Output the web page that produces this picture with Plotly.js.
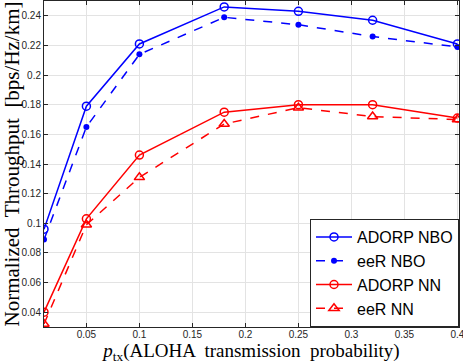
<!DOCTYPE html>
<html>
<head>
<meta charset="utf-8">
<script src="https://cdn.plot.ly/plotly-3.0.1.min.js"></script>
<style>
  body { margin: 0; background: #fff; }
  #plot { width: 463px; height: 364px; }
</style>
</head>
<body>
<div id="plot"></div>
<script>
// transmission probability values
var ptx = [0.01, 0.05, 0.1, 0.18, 0.25, 0.32, 0.4];

// normalized throughput per scheme
var adorpNBO = [0.096, 0.179, 0.221, 0.246, 0.243, 0.237, 0.221];
var eerNBO   = [0.089, 0.165, 0.214, 0.239, 0.234, 0.226, 0.219];
var adorpNN  = [0.040, 0.103, 0.146, 0.175, 0.180, 0.180, 0.171];
var eerNN    = [0.032, 0.099, 0.131, 0.167, 0.178, 0.172, 0.170];

var xTicks = [0.05, 0.1, 0.15, 0.2, 0.25, 0.3, 0.35, 0.4];
var xTickText = ["0.05", "0.1", "0.15", "0.2", "0.25", "0.3", "0.35", "0.4"];
var yTicks = [0.04, 0.06, 0.08, 0.1, 0.12, 0.14, 0.16, 0.18, 0.2, 0.22, 0.24];
var yTickText = ["0.04", "0.06", "0.08", "0.1", "0.12", "0.14", "0.16", "0.18", "0.2", "0.22", "0.24"];

var blue = "#0000ff";
var red = "#ff0000";

var traces = [
  {
    x: ptx, y: adorpNBO, name: "ADORP NBO", mode: "lines+markers",
    line: {color: blue, width: 1.5},
    marker: {symbol: "circle-open", size: 8, color: blue, line: {width: 1.5}}
  },
  {
    x: ptx, y: eerNBO, name: "eeR NBO", mode: "lines+markers",
    line: {color: blue, width: 1.5, dash: "dash"},
    marker: {symbol: "circle", size: 6, color: blue}
  },
  {
    x: ptx, y: adorpNN, name: "ADORP NN", mode: "lines+markers",
    line: {color: red, width: 1.5},
    marker: {symbol: "circle-open", size: 8, color: red, line: {width: 1.5}}
  },
  {
    x: ptx, y: eerNN, name: "eeR NN", mode: "lines+markers",
    line: {color: red, width: 1.5, dash: "dash"},
    marker: {symbol: "triangle-up-open", size: 9, color: red, line: {width: 1.5}}
  }
];

var axisCommon = {
  showline: true, linecolor: "#262626", linewidth: 1, mirror: "ticks",
  ticks: "inside", ticklen: 4, tickcolor: "#262626",
  showgrid: true, gridcolor: "#e3e3e3", gridwidth: 1,
  zeroline: false, ticklabeloverflow: "allow",
  tickfont: {family: "Liberation Sans, Arial, sans-serif", size: 10, color: "#262626"}
};

var layout = {
  width: 463, height: 364,
  margin: {l: 44, r: 4, t: 1, b: 37},
  paper_bgcolor: "#ffffff", plot_bgcolor: "#ffffff",
  showlegend: true,
  xaxis: Object.assign({}, axisCommon, {
    range: [0.01, 0.4015],
    tickvals: xTicks, ticktext: xTickText,
    ticklabelstandoff: -2,
    title: {
      text: "<i>p</i><sub>tx</sub>(ALOHA  transmission  probability)",
      font: {family: "Liberation Serif, Times New Roman, serif", size: 19, color: "#000"},
      standoff: 8
    }
  }),
  yaxis: Object.assign({}, axisCommon, {
    range: [0.03, 0.25],
    tickvals: yTicks, ticktext: yTickText,
    title: {
      text: "Normalized  Throughput  [bps/Hz/km]",
      font: {family: "Liberation Serif, Times New Roman, serif", size: 21, color: "#000"},
      standoff: 3
    }
  }),
  legend: {
    x: 1, y: 0, xanchor: "right", yanchor: "bottom",
    bgcolor: "#ffffff", bordercolor: "#262626", borderwidth: 1,
    font: {family: "Liberation Sans, Arial, sans-serif", size: 16, color: "#000"},
    itemwidth: 36,
    tracegroupgap: 0
  }
};

Plotly.newPlot("plot", traces, layout, {staticPlot: true});
</script>
</body>
</html>
